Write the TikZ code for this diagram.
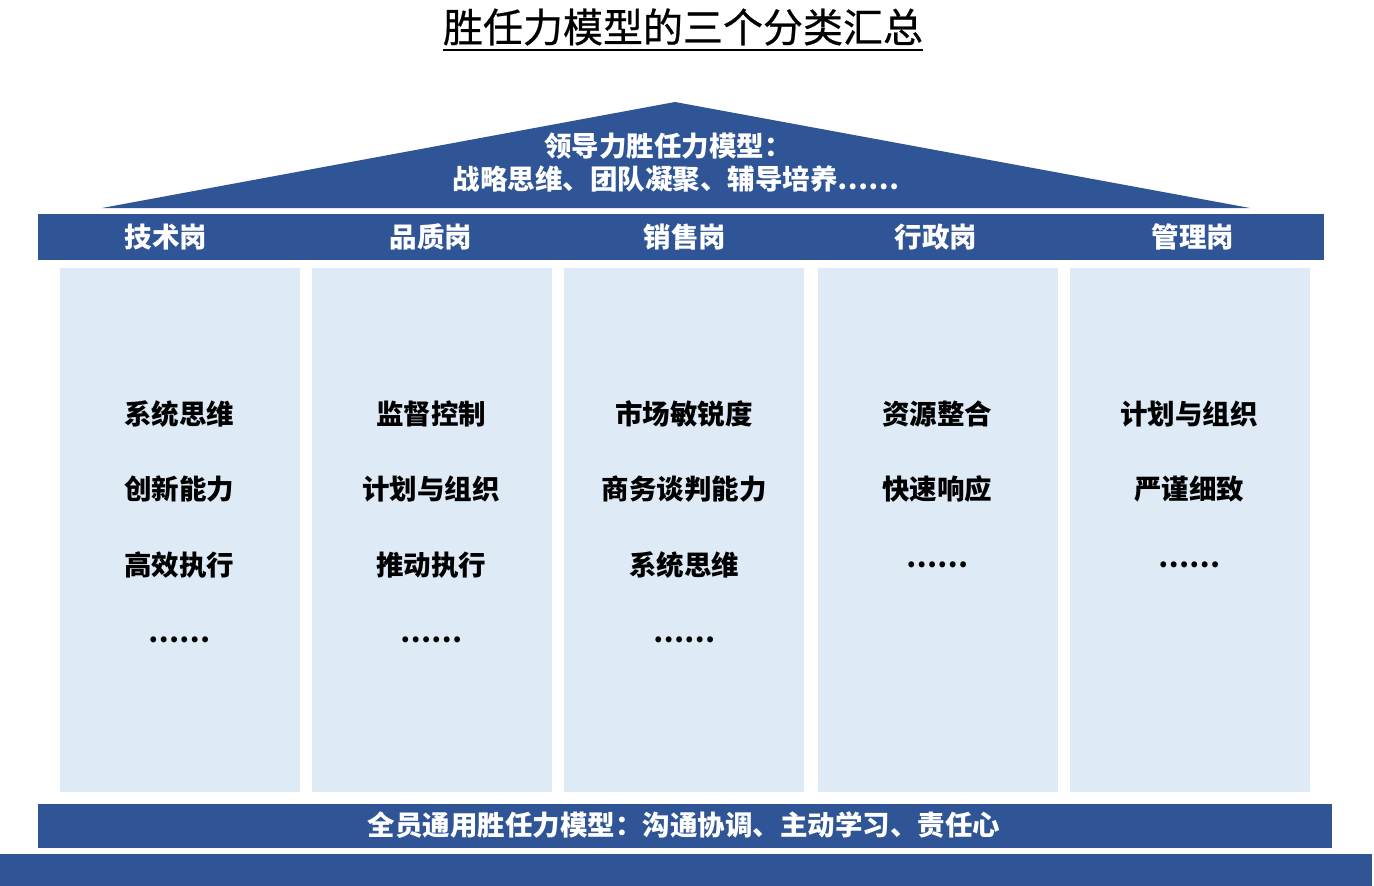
\documentclass[tikz,border=0pt]{standalone}
\usepackage{fontspec}
\setmainfont{Noto Sans CJK SC}
\newfontfamily\cjk{Noto Sans CJK SC}
\newfontfamily\cjkm{Noto Sans CJK SC}[FakeBold=0.6]
\definecolor{dblue}{HTML}{2F5597}
\definecolor{lblue}{HTML}{DEEBF7}
\begin{document}
\begin{tikzpicture}[x=1pt,y=-1pt,
  bar/.style={fill=dblue,draw=none},
  col/.style={fill=lblue,draw=none},
  wtxt/.style={text=white,font=\cjk\bfseries\fontsize{27.5}{32}\selectfont,inner sep=0pt},
  btxt/.style={text=black,font=\cjk\bfseries\fontsize{27.5}{32}\selectfont,inner sep=0pt},
]
\useasboundingbox (0,0) rectangle (1374,886);
% title
\node[inner sep=0pt,font=\cjkm\fontsize{40}{46}\selectfont] (title) at (683,27) {胜任力模型的三个分类汇总};
\draw[line width=2pt] (443,50) -- (923,50);
% roof
\fill[dblue] (102,208) -- (675,102) -- (1250,208) -- cycle;
\node[wtxt,align=center] (lead1) at (668,146) {领导力胜任力模型：};
\node[wtxt,align=center] (lead2) at (676,179) {战略思维、团队凝聚、辅导培养……};
% header bar
\fill[bar] (38,214) rectangle (1324,260);
\foreach \n/\x/\t in {h1/166/技术岗,h2/431/品质岗,h3/685/销售岗,h4/936/行政岗,h5/1193/管理岗}{
  \node[wtxt] (\n) at (\x,237) {\t};
}
% columns
\foreach \i/\x in {1/60,2/312,3/564,4/818,5/1070}{
  \fill[col] (\x,268) rectangle ++(240,524);
}
% column texts
\node[btxt] (c11) at (179,414) {系统思维};
\node[btxt] (c12) at (179,489) {创新能力};
\node[btxt] (c13) at (179,565) {高效执行};
\node[btxt] (c14) at (179,640) {……};
\node[btxt] (c21) at (431,414) {监督控制};
\node[btxt] (c22) at (431,489) {计划与组织};
\node[btxt] (c23) at (431,565) {推动执行};
\node[btxt] (c24) at (431,640) {……};
\node[btxt] (c31) at (684,414) {市场敏锐度};
\node[btxt] (c32) at (684,489) {商务谈判能力};
\node[btxt] (c33) at (684,565) {系统思维};
\node[btxt] (c34) at (684,640) {……};
\node[btxt] (c41) at (937,414) {资源整合};
\node[btxt] (c42) at (937,489) {快速响应};
\node[btxt] (c43) at (937,565) {……};
\node[btxt] (c51) at (1189,414) {计划与组织};
\node[btxt] (c52) at (1189,489) {严谨细致};
\node[btxt] (c53) at (1189,565) {……};
% bottom bar
\fill[bar] (38,804) rectangle (1332,848);
\node[wtxt] (base) at (684,825) {全员通用胜任力模型：沟通协调、主动学习、责任心};
\fill[bar] (0,854) rectangle (1372,886);
\end{tikzpicture}
\end{document}
